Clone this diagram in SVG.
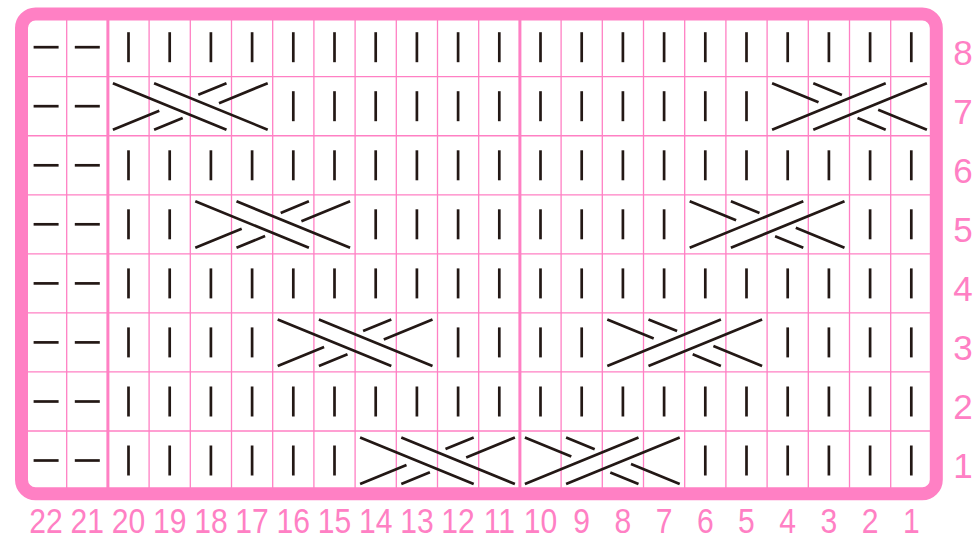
<svg xmlns="http://www.w3.org/2000/svg" xmlns:xlink="http://www.w3.org/1999/xlink" width="975" height="541" viewBox="0 0 975 541">
<style>
.grid{stroke:#ff80c4;stroke-width:1.3;fill:none}
.thick{stroke:#ff80c4;stroke-width:3;fill:none}
.border{stroke:#ff80c4;stroke-width:13;fill:none}
.sym{stroke:#231815;stroke-width:2.7;fill:none;stroke-linecap:butt}
.num{fill:#ff80c4;font-family:"Liberation Sans",Arial,sans-serif;text-anchor:middle}
.rn{font-size:35px}
.bn{font-size:35px}
</style>
<defs>
<line id="k" class="sym" x1="0" y1="-15" x2="0" y2="15"/>
<line id="p" class="sym" x1="-12.5" y1="0" x2="12.5" y2="0"/>
<g id="cL" class="sym">
<path d="M5 6.5L118.6 53M46.2 6.5L159.8 53M5 53L51.4 34M90.4 18.1L118.6 6.5M46.2 53L74.8 41.3M111.1 26.5L159.8 6.5"/>
</g>
<g id="cR" class="sym">
<path d="M5 53L118.6 6.5M46.2 53L159.8 6.5M5 6.5L51.4 25.5M90.4 41.4L118.6 53M46.2 6.5L74.8 18.2M111.1 33L159.8 53"/>
</g>
</defs>
<rect x="0" y="0" width="975" height="541" fill="#ffffff"/>
<g id="grid">
<path class="grid" d="M66.7 17V491M149.1 17V491M190.3 17V491M231.5 17V491M272.7 17V491M313.9 17V491M355.1 17V491M396.3 17V491M437.5 17V491M478.7 17V491M561.1 17V491M602.3 17V491M643.5 17V491M684.7 17V491M725.9 17V491M767.1 17V491M808.3 17V491M849.5 17V491M890.7 17V491M25 76.7H932M25 135.75H932M25 194.8H932M25 253.85H932M25 312.9H932M25 371.95H932M25 431H932"/>
<path class="thick" d="M107.9 17V491M519.9 17V491"/>
</g>
<g id="row8">
<use href="#p" x="46.1" y="47.2"/><use href="#p" x="87.3" y="47.2"/>
<use href="#k" x="128.5" y="47.2"/><use href="#k" x="169.7" y="47.2"/><use href="#k" x="210.9" y="47.2"/><use href="#k" x="252.1" y="47.2"/><use href="#k" x="293.3" y="47.2"/><use href="#k" x="334.5" y="47.2"/><use href="#k" x="375.7" y="47.2"/><use href="#k" x="416.9" y="47.2"/><use href="#k" x="458.1" y="47.2"/><use href="#k" x="499.3" y="47.2"/><use href="#k" x="540.5" y="47.2"/><use href="#k" x="581.7" y="47.2"/><use href="#k" x="622.9" y="47.2"/><use href="#k" x="664.1" y="47.2"/><use href="#k" x="705.3" y="47.2"/><use href="#k" x="746.5" y="47.2"/><use href="#k" x="787.7" y="47.2"/><use href="#k" x="828.9" y="47.2"/><use href="#k" x="870.1" y="47.2"/><use href="#k" x="911.3" y="47.2"/>
</g>
<g id="row7">
<use href="#p" x="46.1" y="106.2"/><use href="#p" x="87.3" y="106.2"/>
<use href="#cL" x="107.9" y="76.7"/>
<use href="#k" x="293.3" y="106.2"/><use href="#k" x="334.5" y="106.2"/><use href="#k" x="375.7" y="106.2"/><use href="#k" x="416.9" y="106.2"/><use href="#k" x="458.1" y="106.2"/><use href="#k" x="499.3" y="106.2"/><use href="#k" x="540.5" y="106.2"/><use href="#k" x="581.7" y="106.2"/><use href="#k" x="622.9" y="106.2"/><use href="#k" x="664.1" y="106.2"/><use href="#k" x="705.3" y="106.2"/><use href="#k" x="746.5" y="106.2"/>
<use href="#cR" x="767.1" y="76.7"/>
</g>
<g id="row6">
<use href="#p" x="46.1" y="165.3"/><use href="#p" x="87.3" y="165.3"/>
<use href="#k" x="128.5" y="165.3"/><use href="#k" x="169.7" y="165.3"/><use href="#k" x="210.9" y="165.3"/><use href="#k" x="252.1" y="165.3"/><use href="#k" x="293.3" y="165.3"/><use href="#k" x="334.5" y="165.3"/><use href="#k" x="375.7" y="165.3"/><use href="#k" x="416.9" y="165.3"/><use href="#k" x="458.1" y="165.3"/><use href="#k" x="499.3" y="165.3"/><use href="#k" x="540.5" y="165.3"/><use href="#k" x="581.7" y="165.3"/><use href="#k" x="622.9" y="165.3"/><use href="#k" x="664.1" y="165.3"/><use href="#k" x="705.3" y="165.3"/><use href="#k" x="746.5" y="165.3"/><use href="#k" x="787.7" y="165.3"/><use href="#k" x="828.9" y="165.3"/><use href="#k" x="870.1" y="165.3"/><use href="#k" x="911.3" y="165.3"/>
</g>
<g id="row5">
<use href="#p" x="46.1" y="224.3"/><use href="#p" x="87.3" y="224.3"/>
<use href="#k" x="128.5" y="224.3"/><use href="#k" x="169.7" y="224.3"/>
<use href="#cL" x="190.3" y="194.8"/>
<use href="#k" x="375.7" y="224.3"/><use href="#k" x="416.9" y="224.3"/><use href="#k" x="458.1" y="224.3"/><use href="#k" x="499.3" y="224.3"/><use href="#k" x="540.5" y="224.3"/><use href="#k" x="581.7" y="224.3"/><use href="#k" x="622.9" y="224.3"/><use href="#k" x="664.1" y="224.3"/>
<use href="#cR" x="684.7" y="194.8"/>
<use href="#k" x="870.1" y="224.3"/><use href="#k" x="911.3" y="224.3"/>
</g>
<g id="row4">
<use href="#p" x="46.1" y="283.4"/><use href="#p" x="87.3" y="283.4"/>
<use href="#k" x="128.5" y="283.4"/><use href="#k" x="169.7" y="283.4"/><use href="#k" x="210.9" y="283.4"/><use href="#k" x="252.1" y="283.4"/><use href="#k" x="293.3" y="283.4"/><use href="#k" x="334.5" y="283.4"/><use href="#k" x="375.7" y="283.4"/><use href="#k" x="416.9" y="283.4"/><use href="#k" x="458.1" y="283.4"/><use href="#k" x="499.3" y="283.4"/><use href="#k" x="540.5" y="283.4"/><use href="#k" x="581.7" y="283.4"/><use href="#k" x="622.9" y="283.4"/><use href="#k" x="664.1" y="283.4"/><use href="#k" x="705.3" y="283.4"/><use href="#k" x="746.5" y="283.4"/><use href="#k" x="787.7" y="283.4"/><use href="#k" x="828.9" y="283.4"/><use href="#k" x="870.1" y="283.4"/><use href="#k" x="911.3" y="283.4"/>
</g>
<g id="row3">
<use href="#p" x="46.1" y="342.4"/><use href="#p" x="87.3" y="342.4"/>
<use href="#k" x="128.5" y="342.4"/><use href="#k" x="169.7" y="342.4"/><use href="#k" x="210.9" y="342.4"/><use href="#k" x="252.1" y="342.4"/>
<use href="#cL" x="272.7" y="312.9"/>
<use href="#k" x="458.1" y="342.4"/><use href="#k" x="499.3" y="342.4"/><use href="#k" x="540.5" y="342.4"/><use href="#k" x="581.7" y="342.4"/>
<use href="#cR" x="602.3" y="312.9"/>
<use href="#k" x="787.7" y="342.4"/><use href="#k" x="828.9" y="342.4"/><use href="#k" x="870.1" y="342.4"/><use href="#k" x="911.3" y="342.4"/>
</g>
<g id="row2">
<use href="#p" x="46.1" y="401.5"/><use href="#p" x="87.3" y="401.5"/>
<use href="#k" x="128.5" y="401.5"/><use href="#k" x="169.7" y="401.5"/><use href="#k" x="210.9" y="401.5"/><use href="#k" x="252.1" y="401.5"/><use href="#k" x="293.3" y="401.5"/><use href="#k" x="334.5" y="401.5"/><use href="#k" x="375.7" y="401.5"/><use href="#k" x="416.9" y="401.5"/><use href="#k" x="458.1" y="401.5"/><use href="#k" x="499.3" y="401.5"/><use href="#k" x="540.5" y="401.5"/><use href="#k" x="581.7" y="401.5"/><use href="#k" x="622.9" y="401.5"/><use href="#k" x="664.1" y="401.5"/><use href="#k" x="705.3" y="401.5"/><use href="#k" x="746.5" y="401.5"/><use href="#k" x="787.7" y="401.5"/><use href="#k" x="828.9" y="401.5"/><use href="#k" x="870.1" y="401.5"/><use href="#k" x="911.3" y="401.5"/>
</g>
<g id="row1">
<use href="#p" x="46.1" y="460.5"/><use href="#p" x="87.3" y="460.5"/>
<use href="#k" x="128.5" y="460.5"/><use href="#k" x="169.7" y="460.5"/><use href="#k" x="210.9" y="460.5"/><use href="#k" x="252.1" y="460.5"/><use href="#k" x="293.3" y="460.5"/><use href="#k" x="334.5" y="460.5"/>
<use href="#cL" x="355.1" y="431"/>
<use href="#cR" x="519.9" y="431"/>
<use href="#k" x="705.3" y="460.5"/><use href="#k" x="746.5" y="460.5"/><use href="#k" x="787.7" y="460.5"/><use href="#k" x="828.9" y="460.5"/><use href="#k" x="870.1" y="460.5"/><use href="#k" x="911.3" y="460.5"/>
</g>
<g id="frame">
<rect class="border" x="21.5" y="14" width="914.8" height="479.7" rx="14" ry="14"/>
</g>
<g id="row-numbers" class="num rn">
<text x="963" y="64.7">8</text>
<text x="963" y="123.7">7</text>
<text x="963" y="182.8">6</text>
<text x="963" y="241.8">5</text>
<text x="963" y="300.9">4</text>
<text x="963" y="359.9">3</text>
<text x="963" y="419">2</text>
<text x="963" y="478">1</text>
</g>
<g id="col-numbers" class="num bn" transform="scale(0.86 1)">
<text x="53.6" y="533.5">22</text>
<text x="101.51" y="533.5">21</text>
<text x="149.42" y="533.5">20</text>
<text x="197.33" y="533.5">19</text>
<text x="245.23" y="533.5">18</text>
<text x="293.14" y="533.5">17</text>
<text x="341.05" y="533.5">16</text>
<text x="388.95" y="533.5">15</text>
<text x="436.86" y="533.5">14</text>
<text x="484.77" y="533.5">13</text>
<text x="532.67" y="533.5">12</text>
<text x="580.58" y="533.5">11</text>
<text x="628.49" y="533.5">10</text>
<text x="676.4" y="533.5">9</text>
<text x="724.3" y="533.5">8</text>
<text x="772.21" y="533.5">7</text>
<text x="820.12" y="533.5">6</text>
<text x="868.02" y="533.5">5</text>
<text x="915.93" y="533.5">4</text>
<text x="963.84" y="533.5">3</text>
<text x="1011.74" y="533.5">2</text>
<text x="1059.65" y="533.5">1</text>
</g>
</svg>
